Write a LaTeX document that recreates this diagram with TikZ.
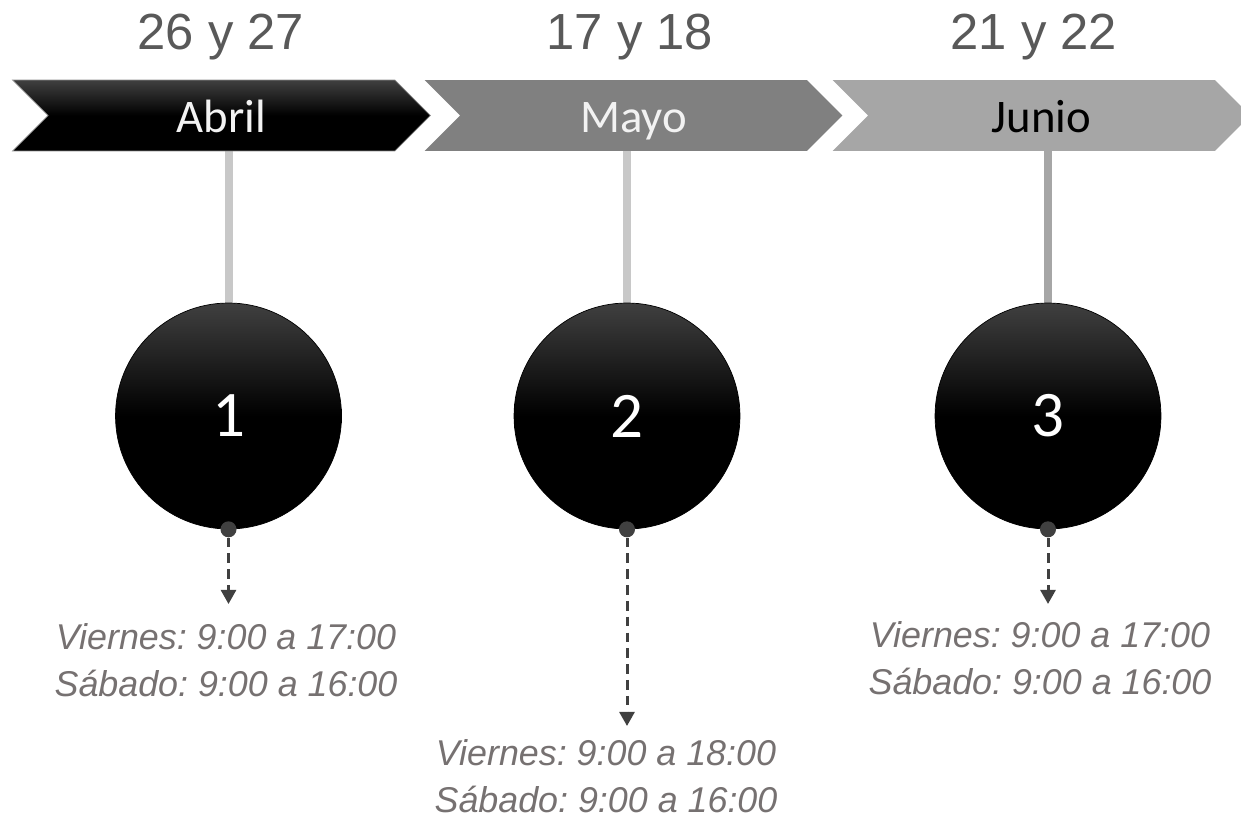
\documentclass[tikz,border=0pt]{standalone}
\usepackage{fontspec}
\setmainfont{Liberation Sans}
\newfontfamily\calibrifont{Carlito}
\usepackage{tikz}
\usetikzlibrary{
    arrows.meta,
    positioning,
    shapes.symbols,
    backgrounds,
    calc
}
\definecolor{datetext}{HTML}{595959}
\definecolor{hourtext}{HTML}{767171}
\definecolor{maygray}{HTML}{808080}
\definecolor{junegray}{HTML}{A6A6A6}
\definecolor{stemgray}{HTML}{C8C8C8}
\definecolor{dotgray}{HTML}{404040}
\frenchspacing

\begin{document}
\begin{tikzpicture}[x=0.02cm, y=-0.02cm,
    chevron/.style={signal, signal from=west, signal to=east, minimum width=8.36cm,
        minimum height=1.42cm, inner sep=0pt, text height=24pt, text depth=4.2pt,
        font=\calibrifont\fontsize{26.6}{30}\selectfont},
    datelabel/.style={anchor=base, text=datetext, font=\fontsize{28.9}{34}\selectfont},
    milestone/.style={circle, draw=black, minimum size=4.52cm, inner sep=0pt,
        top color=dotgray, bottom color=black, middle color=black, text=white,
        font=\calibrifont\fontsize{37}{42}\selectfont},
    stem/.style={line width=0.16cm},
    knob/.style={circle, fill=dotgray, minimum size=0.32cm, inner sep=0pt},
    droparrow/.style={dotgray, line width=1.7pt, dash pattern=on 5.5pt off 3.5pt,
        -{Triangle[length=8pt, width=8.5pt]}},
    hours/.style={align=center, text=hourtext, inner sep=0pt,
        font=\itshape\fontsize{20.4}{26.6}\selectfont}
]
    \useasboundingbox (0,0) rectangle (1241,820);

    % Month chevrons
    \node[chevron, draw=black!45, top color=dotgray, bottom color=black, middle color=black,
          text=white!95!black] (abril) at (221.5,115.5) {Abril};
    \node[chevron, fill=maygray, text=white!95!black] (mayo) at (633.5,115.5) {Mayo};
    \node[chevron, fill=junegray, text=black] (junio) at (1041.5,115.5) {Junio};

    % Dates
    \node[datelabel] (d-abril) at (221,50) {26 y 27};
    \node[datelabel] (d-mayo) at (630,50) {17 y 18};
    \node[datelabel] (d-junio) at (1034,50) {21 y 22};

    % Circles
    \node[milestone] (c1) at (228.5,416) {1};
    \node[milestone] (c2) at (627,416) {2};
    \node[milestone] (c3) at (1048,416) {3};

    % Stems
    \begin{scope}[on background layer]
        \draw[stem, stemgray] (c1.north) -- (c1.north |- abril.south);
        \draw[stem, stemgray] (c2.north) -- (c2.north |- mayo.south);
        \draw[stem, junegray] (c3.north) -- (c3.north |- junio.south);
    \end{scope}

    % Knobs and arrows
    \node[knob] (k1) at (c1.south) {};
    \node[knob] (k2) at (c2.south) {};
    \node[knob] (k3) at (c3.south) {};
    \coordinate (e1) at (228.5,604);
    \coordinate (e2) at (627,726);
    \coordinate (e3) at (1048,604);
    \draw[droparrow] (k1) -- (e1);
    \draw[droparrow] (k2) -- (e2);
    \draw[droparrow] (k3) -- (e3);

    % Opening hours
    \node[hours] (h1) at (226,660) {Viernes: 9:00 a 17:00\\Sábado: 9:00 a 16:00};
    \node[hours] (h2) at (606,776) {Viernes: 9:00 a 18:00\\Sábado: 9:00 a 16:00};
    \node[hours] (h3) at (1040,658) {Viernes: 9:00 a 17:00\\Sábado: 9:00 a 16:00};
\end{tikzpicture}
\end{document}
